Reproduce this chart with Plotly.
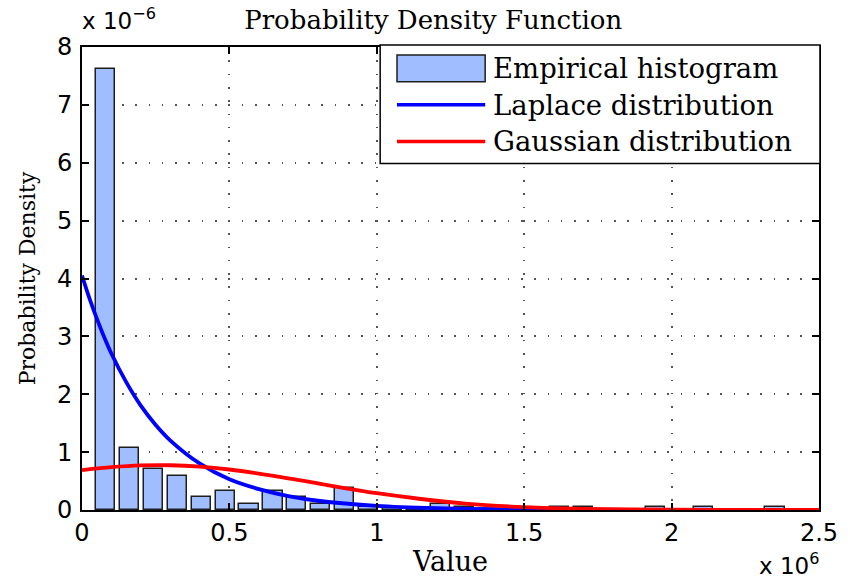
import plotly.graph_objects as go

# Units used on the axes (tick labels show the scaled numbers)
VALUE_UNIT = 1e6
DENSITY_UNIT = 1e-6

# Empirical histogram: bin centres (x 1e6) and normalised density (x 1e-6)
bin_width = 0.0811
bin_centers = [0.0800, 0.1611, 0.2422, 0.3233, 0.4044, 0.4855, 0.5666, 0.6477,
               0.7288, 0.8099, 0.8910, 0.9721, 1.0532, 1.1343, 1.2154, 1.2965,
               1.3776, 1.4587, 1.5398, 1.6209, 1.7020, 1.7831, 1.8642, 1.9453,
               2.0264, 2.1075, 2.1886, 2.2697, 2.3508, 2.4319]
hist_density = [7.62, 1.07, 0.70, 0.59, 0.22, 0.33, 0.11, 0.33,
                0.22, 0.10, 0.38, 0.05, 0.03, 0.03, 0.10, 0.06,
                0.02, 0.00, 0.00, 0.05, 0.05, 0.00, 0.00, 0.05,
                0.00, 0.05, 0.00, 0.00, 0.05, 0.00]

# Fitted Laplace density (x 1e6, y 1e-6)
laplace_x = [0, 0.025, 0.05, 0.075, 0.1, 0.15, 0.2, 0.25, 0.3, 0.4,
             0.5, 0.6, 0.7, 0.8, 1.0, 1.2, 1.4, 1.7, 2.0, 2.5]
laplace_pdf = [4.05, 3.66, 3.31, 2.99, 2.70, 2.21, 1.80, 1.47, 1.20, 0.80,
               0.53, 0.36, 0.24, 0.16, 0.07, 0.03, 0.014, 0.004, 0.001, 0.0]

# Fitted Gaussian density (x 1e6, y 1e-6)
gauss_x = [0, 0.1, 0.2, 0.3, 0.4, 0.5, 0.65, 0.8, 0.9, 1.0,
           1.15, 1.3, 1.5, 1.7, 2.0, 2.3, 2.5]
gauss_pdf = [0.69, 0.74, 0.77, 0.773, 0.75, 0.70, 0.59, 0.46, 0.37, 0.29,
             0.19, 0.11, 0.05, 0.02, 0.004, 0.001, 0.0]

x_ticks = [0, 0.5, 1, 1.5, 2, 2.5]
y_ticks = [0, 1, 2, 3, 4, 5, 6, 7, 8]

series_names = ["Empirical histogram", "Laplace distribution", "Gaussian distribution"]

BAR_FILL = "rgb(160,190,255)"
BAR_EDGE = "rgb(30,30,30)"
BLUE = "rgb(0,0,255)"
RED = "rgb(255,0,0)"
SERIF = "DejaVu Serif"
SANS = "DejaVu Sans"

fig = go.Figure()

fig.add_trace(go.Bar(
    name=series_names[0],
    x=[c * VALUE_UNIT for c in bin_centers],
    y=[h * DENSITY_UNIT for h in hist_density],
    width=0.8 * bin_width * VALUE_UNIT,
    marker=dict(color=BAR_FILL, line=dict(color=BAR_EDGE, width=1.5)),
    showlegend=False,
))
fig.add_trace(go.Scatter(
    name=series_names[1],
    x=[v * VALUE_UNIT for v in laplace_x],
    y=[d * DENSITY_UNIT for d in laplace_pdf],
    mode="lines", line=dict(color=BLUE, width=3.8, shape="spline", smoothing=0.8),
    showlegend=False,
))
fig.add_trace(go.Scatter(
    name=series_names[2],
    x=[v * VALUE_UNIT for v in gauss_x],
    y=[d * DENSITY_UNIT for d in gauss_pdf],
    mode="lines", line=dict(color=RED, width=3.8, shape="spline", smoothing=0.8),
    showlegend=False,
))

axis_common = dict(
    showline=True, linecolor="black", linewidth=1.8, mirror="ticks",
    ticks="inside", ticklen=7, tickwidth=1.5, tickcolor="black",
    showgrid=True, gridcolor="#555555", gridwidth=1.6, griddash="1.6px,11.7px",
    zeroline=False, tickfont=dict(family=SANS, size=24, color="black"),
)

fig.update_xaxes(
    range=[0, 2.5 * VALUE_UNIT],
    tickvals=[t * VALUE_UNIT for t in x_ticks],
    ticktext=[f"{t:g}" for t in x_ticks],
    title=dict(text="Value", font=dict(family=SERIF, size=27, color="black"), standoff=6),
    **axis_common,
)
fig.update_yaxes(
    range=[0, 8 * DENSITY_UNIT],
    tickvals=[t * DENSITY_UNIT for t in y_ticks],
    ticktext=[f"{t:g}" for t in y_ticks],
    ticklabelstandoff=3,
    title=dict(text="Probability Density", font=dict(family=SERIF, size=22, color="black"), standoff=15),
    **axis_common,
)

# Legend drawn in paper coordinates
PLOT_L, PLOT_W, PLOT_B, PLOT_H = 82, 744, 512, 465


def px_x(px):
    return (px - PLOT_L) / PLOT_W


def px_y(py):
    return (PLOT_B - py) / PLOT_H


shapes = [
    dict(type="rect", xref="paper", yref="paper", layer="above",
         x0=px_x(383), x1=px_x(827), y0=px_y(164), y1=px_y(45),
         line=dict(color="black", width=1.5), fillcolor="white"),
    dict(type="rect", xref="paper", yref="paper", layer="above",
         x0=px_x(400), x1=px_x(489), y0=px_y(82), y1=px_y(55),
         line=dict(color=BAR_EDGE, width=1.5), fillcolor=BAR_FILL),
    dict(type="line", xref="paper", yref="paper", layer="above",
         x0=px_x(400), x1=px_x(489), y0=px_y(105), y1=px_y(105),
         line=dict(color=BLUE, width=3.5)),
    dict(type="line", xref="paper", yref="paper", layer="above",
         x0=px_x(400), x1=px_x(489), y0=px_y(142), y1=px_y(142),
         line=dict(color=RED, width=3.5)),
]

annotations = []
for name, py in zip(series_names, [68.5, 105, 141.5]):
    annotations.append(dict(
        text=name, xref="paper", yref="paper", x=px_x(495), y=px_y(py),
        xanchor="left", yanchor="middle", showarrow=False,
        font=dict(family=SERIF, size=27.5, color="black"),
    ))

# Axis multipliers
annotations.append(dict(
    text="x 10<sup>\u22126</sup>", xref="paper", yref="paper",
    x=px_x(80), y=px_y(36), xanchor="left", yanchor="bottom", showarrow=False,
    font=dict(family=SANS, size=23, color="black"),
))
annotations.append(dict(
    text="x 10<sup>6</sup>", xref="paper", yref="paper",
    x=px_x(828), y=px_y(583), xanchor="right", yanchor="bottom", showarrow=False,
    font=dict(family=SANS, size=23, color="black"),
))

fig.update_layout(
    width=850, height=584,
    margin=dict(l=82, r=24, t=47, b=72),
    paper_bgcolor="white", plot_bgcolor="white",
    title=dict(text="Probability Density Function", x=px_x(436.5), xref="paper",
               xanchor="center", y=1 - 20 / 584, yref="container", yanchor="middle",
               font=dict(family=SERIF, size=26, color="black")),
    shapes=shapes, annotations=annotations,
    bargap=0, showlegend=False,
)

fig.write_html("out.html")
